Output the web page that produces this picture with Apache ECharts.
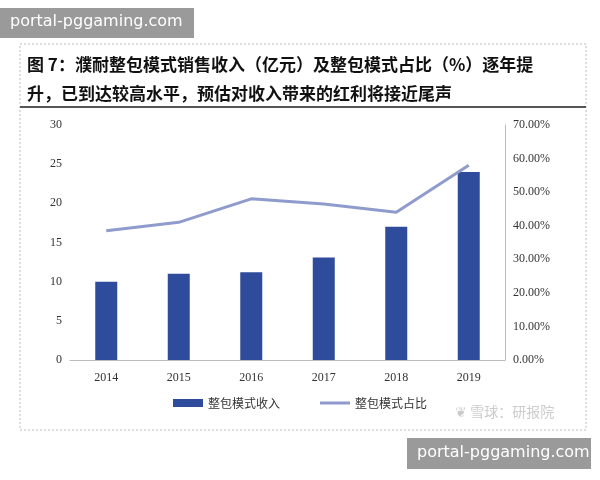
<!DOCTYPE html>
<html><head><meta charset="utf-8">
<script src="https://cdn.jsdelivr.net/npm/echarts@6/dist/echarts.min.js"></script>
<style>html,body{margin:0;background:#fff}#c{width:600px;height:480px}</style>
</head><body><div id="c"></div>
<script>
// 年份、整包模式收入（亿元）、整包模式占比（%）
const years = ['2014','2015','2016','2017','2018','2019'];
const revenue = [10, 11, 11.2, 13.1, 17, 24];
const share = [38.5, 41, 48, 46.5, 44, 58];

let chart = echarts.init(document.getElementById('c'));
chart.setOption({
    animation:false,
    textStyle:{fontFamily:'Liberation Serif'},
    graphic:[
        {type:'rect',shape:{x:20,y:44,width:566,height:386},style:{fill:'none',stroke:'#bbb',lineDash:[2,2]}},
        {type:'rect',shape:{x:0,y:8,width:194,height:30},style:{fill:'#9a9a9a'}},
        {type:'text',left:10,top:14,style:{text:'portal-pggaming.com',fill:'#fff',font:'16px "DejaVu Sans"'}},
        {type:'text',left:27,top:50,style:{text:'图 7：濮耐整包模式销售收入（亿元）及整包模式占比（%）逐年提\n升，已到达较高水平，预估对收入带来的红利将接近尾声',fill:'#111',font:'bold 17px "Noto Sans CJK SC"',lineHeight:29}},
        {type:'rect',shape:{x:20,y:106,width:566,height:2},style:{fill:'#555'}},
        {type:'text',left:455,top:405,style:{text:'❦ 雪球：研报院',fill:'#ccc',font:'14px "Noto Sans CJK SC"'}},
        {type:'rect',shape:{x:407,y:438,width:184,height:31},style:{fill:'#9a9a9a'}},
        {type:'text',left:417,top:445,style:{text:'portal-pggaming.com',fill:'#fff',font:'16px "DejaVu Sans"'}}
    ],
    legend:{bottom:66,itemGap:40,textStyle:{fontFamily:'Noto Sans CJK SC',fontSize:12,color:'#333'},
        data:[{name:'整包模式收入',icon:'rect'},{name:'整包模式占比',icon:'path://M0,0H30V3H0Z'}],itemWidth:30,itemHeight:8},
    grid:{left:70,right:95,top:125,bottom:120},
    xAxis:{type:'category',data:years,axisTick:{show:false},axisLine:{lineStyle:{color:'#bbb'}},
        axisLabel:{color:'#333',fontSize:12,margin:12}},
    yAxis:[
        {type:'value',min:0,max:30,interval:5,splitLine:{show:false},axisLine:{show:false},
            axisLabel:{color:'#333',fontSize:12}},
        {type:'value',min:0,max:70,interval:10,splitLine:{show:false},axisLine:{show:true,lineStyle:{color:'#bbb'}},
            axisLabel:{color:'#333',fontSize:12,formatter:v=>v.toFixed(2)+'%'}}
    ],
    series:[
        {name:'整包模式收入',type:'bar',data:revenue,barWidth:22,itemStyle:{color:'#2f4c9c'}},
        {name:'整包模式占比',type:'line',yAxisIndex:1,data:share,symbol:'none',lineStyle:{color:'#8f9bcc',width:3},itemStyle:{color:'#8f9bcc'}}
    ]
});
</script></body></html>
